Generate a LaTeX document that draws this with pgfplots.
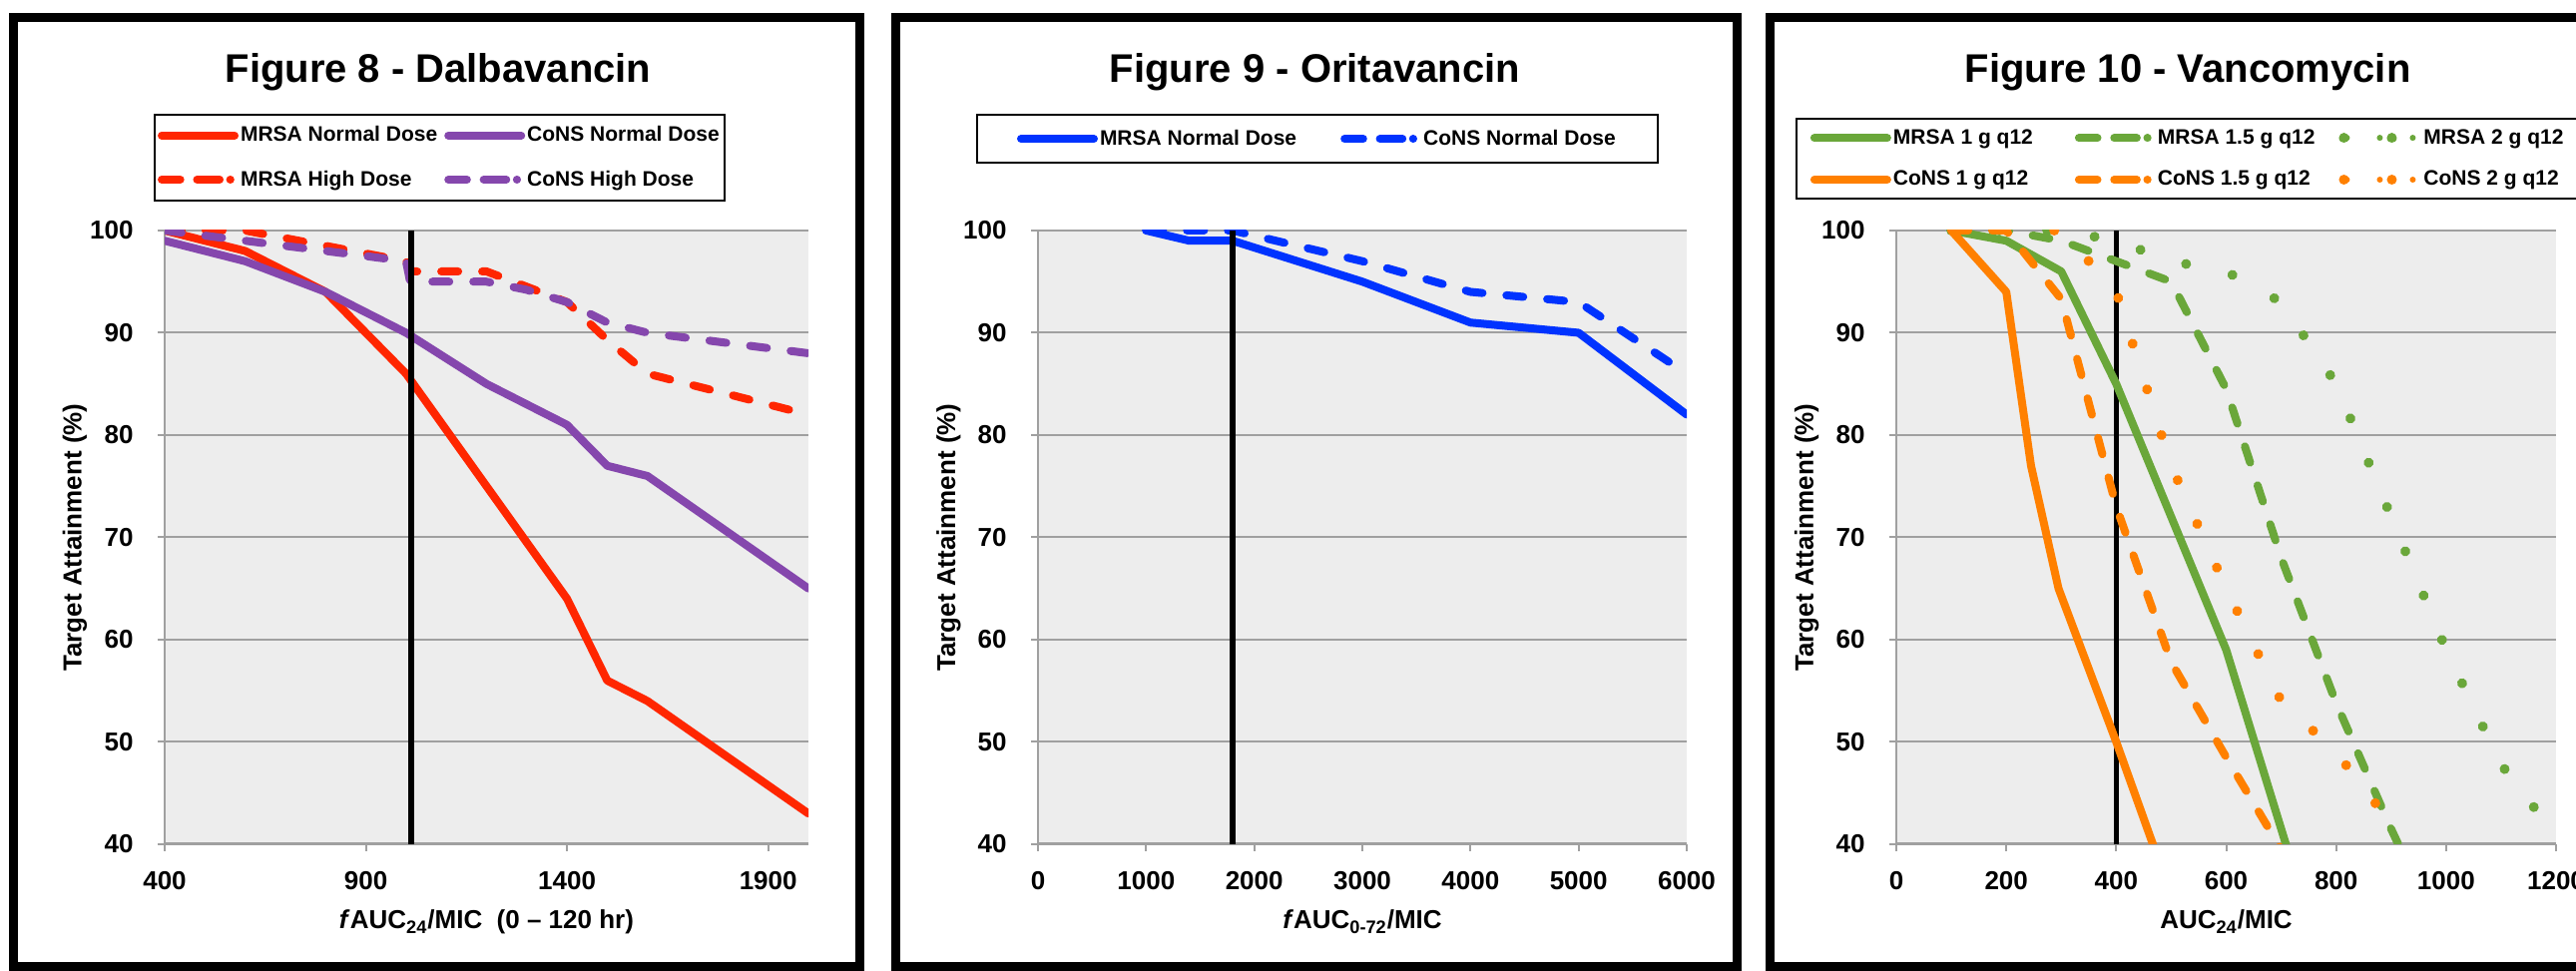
\documentclass[border=0pt]{standalone}
\usepackage{pgfplots}
\pgfplotsset{compat=1.18}
\usepackage{fontspec}
\setmainfont{Liberation Sans}
\definecolor{mred}{RGB}{255,38,0}
\definecolor{mpurple}{RGB}{133,71,173}
\definecolor{mblue}{RGB}{0,51,255}
\definecolor{mgreen}{RGB}{106,167,58}
\definecolor{morange}{RGB}{255,128,0}
\definecolor{plotbg}{RGB}{237,237,237}
\definecolor{gridc}{RGB}{160,160,160}
\newcommand{\tfont}{\bfseries\fontsize{13}{15}\selectfont}
\newcommand{\hfont}{\bfseries\fontsize{20}{24}\selectfont}
\tikzset{
 sol/.style={line width=4pt, line join=round, line cap=round, solid},
 dsh/.style={line width=4pt, line join=round, line cap=round, dash pattern=on 8.5pt off 12pt},
 dtt/.style={line width=5pt, line join=round, line cap=round, dash pattern=on 0.01pt off 24pt},
}
\pgfplotsset{
 lsol/.style={legend image code/.code={\path (0pt,0pt) -- (36.5pt,0pt); \draw[##1,solid] (2pt,0pt) -- (34.5pt,0pt);}},
 ldsh/.style={legend image code/.code={\path (0pt,0pt) -- (36.5pt,0pt); \draw[##1,solid] (2.2pt,0pt) -- (9.3pt,0pt) (17.7pt,0pt) -- (25.3pt,0pt) (34.3pt,0pt) -- (34.4pt,0pt);}},
 ldtt/.style={legend image code/.code={\path (0pt,0pt) -- (36.5pt,0pt); \draw[##1,solid,line width=3pt] (1.5pt,0pt) -- (1.51pt,0pt) (18pt,0pt) -- (18.01pt,0pt) (34.5pt,0pt) -- (34.51pt,0pt);}},
 panel/.style={
  scale only axis, height=307.5pt,
  ymin=40, ymax=100, ytick={40,50,60,70,80,90,100},
  axis x line*=bottom, axis y line*=left,
  x axis line style={gridc, line width=1.5pt},
  y axis line style={gridc, line width=1pt},
  ymajorgrids, grid style={gridc, line width=1pt},
  tick style={gridc, line width=1pt},
  major tick length=3.5pt, tick align=outside,
  axis background/.style={fill=plotbg},
  ticklabel style={font=\tfont},
  /pgf/number format/assume math mode=true,
  /pgf/number format/1000 sep={},
  xticklabel style={anchor=north, inner sep=0pt, yshift=-10pt},
  yticklabel style={anchor=east, inner sep=0pt, xshift=-12pt},
  label style={font=\tfont},
  legend cell align=left,
  legend style={draw=black, line width=1pt, fill=white, font=\bfseries\fontsize{10.5}{12.6}\selectfont, anchor=north west, nodes={inner sep=1pt}},
 },
}
\begin{document}
\begin{tikzpicture}
\path[use as bounding box] (0pt,0pt) rectangle (1290.5pt,486.5pt);
\clip (0pt,0pt) rectangle (1290.5pt,486.5pt);
\draw[line width=4.5pt] (6.5pt,2pt) rectangle (430.5pt,477.5pt);
\draw[line width=4.5pt] (448.5pt,2pt) rectangle (870pt,477.5pt);
\draw[line width=4.5pt] (886.5pt,2pt) rectangle (1320pt,477.5pt);
\node[font=\hfont, anchor=base] at (219.5pt,445pt) {Figure 8 - Dalbavancin};
\node[font=\hfont, anchor=base] at (658.75pt,445pt) {Figure 9 - Oritavancin};
\node[font=\hfont, anchor=base] at (1096pt,445pt) {Figure 10 - Vancomycin};

% ---------- Figure 8 ----------
\begin{axis}[panel, at={(82.5pt,63.5pt)}, width=322.5pt,
  xmin=400, xmax=2000, xtick={400,900,1400,1900},
  xlabel={\textit{f}AUC\textsubscript{24}/MIC\ \ (0 – 120 hr)},
  xlabel style={at={(axis description cs:0.5,-0.1382)}, anchor=base},
  ylabel={Target Attainment (\%)},
  ylabel style={at={(axis description cs:-0.1395,0.5)}, anchor=center},
  legend columns=2,
  legend style={at={(-0.017,1.19)}, row sep=11pt, inner xsep=1.5pt, inner ysep=4.75pt,
    /tikz/column 2/.style={column sep=2.5pt}},
]
\addplot[sol, lsol, mred] coordinates {(400,100)(600,98)(800,94)(1000,86)(1200,75)(1400,64)(1500,56)(1600,54)(2000,43)};
\addlegendentry{MRSA Normal Dose}
\addplot[sol, lsol, mpurple] coordinates {(400,99)(600,97)(800,94)(1000,90)(1200,85)(1400,81)(1500,77)(1600,76)(2000,65)};
\addlegendentry{CoNS Normal Dose}
\addplot[dsh, ldsh, mred] coordinates {(400,100)(600,100)(1000,97)(1010,96)(1200,96)(1300,94.5)(1400,93)(1500,89.3)(1600,86)(2000,82)};
\addlegendentry{MRSA High Dose}
\addplot[dsh, ldsh, mpurple] coordinates {(400,100)(600,99)(800,98)(1000,97)(1010,95)(1200,95)(1300,94.2)(1400,93)(1500,91)(1600,90)(2000,88)};
\addlegendentry{CoNS High Dose}
\addplot[black, line width=2.8pt, forget plot] coordinates {(1013,40)(1013,100)};
\end{axis}

% ---------- Figure 9 ----------
\begin{axis}[panel, at={(520pt,63.5pt)}, width=325pt,
  xmin=0, xmax=6000, xtick={0,1000,2000,3000,4000,5000,6000},
  xlabel={\textit{f}AUC\textsubscript{0-72}/MIC},
  xlabel style={at={(axis description cs:0.5,-0.1382)}, anchor=base},
  ylabel={Target Attainment (\%)},
  ylabel style={at={(axis description cs:-0.1377,0.5)}, anchor=center},
  legend columns=2,
  legend style={at={(-0.0954,1.1902)}, inner xsep=20pt, inner ysep=6.5pt,
    /tikz/column 2/.style={column sep=21pt}},
]
\addplot[sol, lsol, mblue] coordinates {(1000,100)(1400,99)(1800,99)(3000,95)(4000,91)(5000,90)(6000,82)};
\addlegendentry{MRSA Normal Dose}
\addplot[dsh, ldsh, mblue] coordinates {(1000,100)(1800,100)(3000,97)(4000,94)(5000,93)(6000,86)};
\addlegendentry{CoNS Normal Dose}
\addplot[black, line width=2.8pt, forget plot] coordinates {(1800,40)(1800,100)};
\end{axis}

% ---------- Figure 10 ----------
\begin{axis}[panel, at={(950pt,63.5pt)}, width=330.5pt,
  xmin=0, xmax=1200, xtick={0,200,400,600,800,1000,1200},
  xlabel={AUC\textsubscript{24}/MIC},
  xlabel style={at={(axis description cs:0.5,-0.1382)}, anchor=base},
  ylabel={Target Attainment (\%)},
  ylabel style={at={(axis description cs:-0.136,0.5)}, anchor=center},
  legend columns=3,
  legend style={at={(-0.153,1.1836)}, row sep=10pt, inner xsep=7pt, inner ysep=4.25pt,
    /tikz/column 2/.style={column sep=20pt}, /tikz/column 4/.style={column sep=11pt}},
]
\addplot[black, line width=2.8pt, forget plot] coordinates {(400,40)(400,100)};
\addplot[sol, lsol, mgreen] coordinates {(100,100)(200,99)(300,96)(400,85)(600,59)(700,41.5)(800,24)};
\addlegendentry{MRSA 1 g q12}
\addplot[dsh, ldsh, mgreen] coordinates {(100,100)(200,100)(300,99)(400,97)(500,95)(600,84.5)(700,68)(800,53.8)(900,41.5)(1000,30)};
\addlegendentry{MRSA 1.5 g q12}
\addplot[dtt, ldtt, mgreen] coordinates {(100,100)(200,100)(300,100)(400,99)(500,97)(600,96)(700,93)(800,85)(900,72)(1000,59)(1100,47.8)(1160,43.6)};
\addlegendentry{MRSA 2 g q12}
\addplot[sol, lsol, morange] coordinates {(100,100)(200,94)(245,77)(295,65)(400,50)(500,35)};
\addlegendentry{CoNS 1 g q12}
\addplot[dsh, ldsh, morange] coordinates {(100,100)(200,100)(300,93.3)(400,73)(500,57.8)(600,48.5)(700,39.5)(800,30)};
\addlegendentry{CoNS 1.5 g q12}
\addplot[dtt, ldtt, morange] coordinates {(200,100)(300,100)(400,94)(500,77)(600,65)(700,54)(800,49)(900,42)};
\addlegendentry{CoNS 2 g q12}
\end{axis}
\end{tikzpicture}
\end{document}
